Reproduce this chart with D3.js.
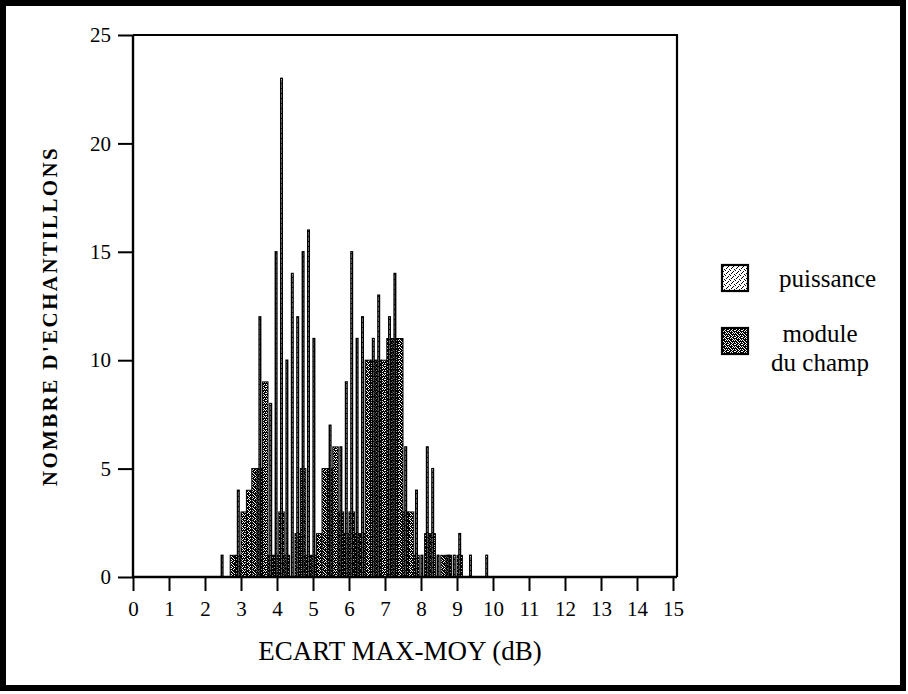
<!DOCTYPE html>
<html>
<head>
<meta charset="utf-8">
<script src="https://cdn.jsdelivr.net/npm/d3@7"></script>
<style>
  html, body { margin: 0; padding: 0; background: #fff; }
  svg { display: block; }
  text { font-family: "Liberation Serif", "Times New Roman", serif; fill: #000; }
</style>
</head>
<body>
<svg id="chart" width="908" height="694"></svg>
<script>
// Histogram bins (lower edge, dB) and counts per bin for each quantity
const binStart = [2.40, 2.55, 2.70, 2.85, 3.00, 3.15, 3.30, 3.45, 3.60, 3.75,
                  3.90, 4.05, 4.20, 4.35, 4.50, 4.65, 4.80, 4.95, 5.10, 5.25,
                  5.40, 5.55, 5.70, 5.85, 6.00, 6.15, 6.30, 6.45, 6.60, 6.75,
                  6.90, 7.05, 7.20, 7.35, 7.50, 7.65, 7.80, 7.95, 8.10, 8.25,
                  8.40, 8.55, 8.70, 8.85, 9.00, 9.15, 9.30, 9.45, 9.60, 9.75, 9.90];
const binWidth = 0.15;

const puissance   = [1, 0, 0, 4, 0, 0, 0, 12, 0, 8,
                     15, 23, 10, 14, 12, 15, 16, 11, 0, 0,
                     7, 0, 6, 9, 15, 11, 12, 0, 11, 13,
                     0, 12, 14, 0, 6, 0, 4, 1, 6, 5,
                     1, 0, 1, 1, 2, 0, 1, 0, 0, 1, 0];
const moduleChamp = [0, 0, 1, 1, 3, 4, 5, 5, 9, 1,
                     1, 3, 1, 0, 2, 5, 1, 1, 2, 5,
                     5, 6, 3, 2, 3, 2, 2, 10, 10, 10,
                     10, 11, 11, 11, 3, 3, 1, 0, 2, 2,
                     0, 1, 1, 0, 1, 0, 0, 0, 0, 0, 0];

const xTicks = [0, 1, 2, 3, 4, 5, 6, 7, 8, 9, 10, 11, 12, 13, 14, 15];
const yTicks = [0, 5, 10, 15, 20, 25];
const seriesNames = ["puissance", "module du champ"];

const svg = d3.select("#chart");

// Stipple tiles for the two fills
const defs = svg.append("defs");
function stipple(id, rows) {
  const p = defs.append("pattern")
    .attr("id", id)
    .attr("width", rows[0].length)
    .attr("height", rows.length)
    .attr("patternUnits", "userSpaceOnUse");
  p.append("rect").attr("width", rows[0].length).attr("height", rows.length).attr("fill", "#fff");
  rows.forEach((r, j) => {
    [...r].forEach((c, i) => {
      if (c === "1") p.append("rect").attr("x", i).attr("y", j).attr("width", 1).attr("height", 1).attr("fill", "#000");
    });
  });
}
stipple("pat-puissance", ["10000", "00010", "00100", "01000", "00001"]);
stipple("pat-module", ["1011011", "0110110", "1101011", "0111101", "1011010", "1101111", "0110101"]);

// Page frame
svg.append("rect").attr("x", 3).attr("y", 3).attr("width", 900).attr("height", 685)
  .attr("fill", "#fff").attr("stroke", "#000").attr("stroke-width", 6);

const x = d3.scaleLinear().domain([0, 15]).range([133, 673]);
const y = d3.scaleLinear().domain([0, 25]).range([577, 35]);
const plotRight = 677;

// Counts for module du champ: full-width stippled bars
const g = svg.append("g");
g.selectAll("rect.module")
  .data(binStart.map((s, i) => ({ s, v: moduleChamp[i] })).filter(d => d.v > 0))
  .join("rect")
  .attr("class", "module")
  .attr("x", d => x(d.s))
  .attr("width", d => x(d.s + binWidth) - x(d.s))
  .attr("y", d => y(d.v))
  .attr("height", d => y(0) - y(d.v))
  .attr("fill", "url(#pat-module)")
  .attr("stroke", "#000")
  .attr("stroke-width", 1);

// Counts for puissance: narrow bars centred in each bin
const pw = 0.045;
g.selectAll("rect.puissance")
  .data(binStart.map((s, i) => ({ s, v: puissance[i] })).filter(d => d.v > 0))
  .join("rect")
  .attr("class", "puissance")
  .attr("x", d => x(d.s + binWidth / 2 - pw / 2))
  .attr("width", d => x(d.s + binWidth / 2 + pw / 2) - x(d.s + binWidth / 2 - pw / 2))
  .attr("y", d => y(d.v))
  .attr("height", d => y(0) - y(d.v))
  .attr("fill", "url(#pat-puissance)")
  .attr("stroke", "#000")
  .attr("stroke-width", 1.4);

// Plot box: top and right edges
svg.append("path")
  .attr("d", `M${x(0)},${y(25)}H${plotRight}V${y(0)}`)
  .attr("fill", "none").attr("stroke", "#000").attr("stroke-width", 2.2);

// Axes
const yAxis = svg.append("g")
  .attr("transform", `translate(${x(0)},0)`)
  .call(d3.axisLeft(y).tickValues(yTicks).tickSize(15).tickPadding(7).tickFormat(d3.format("d")));
const xAxis = svg.append("g")
  .attr("transform", `translate(0,${y(0)})`)
  .call(d3.axisBottom(x).tickValues(xTicks).tickSize(14).tickPadding(10).tickFormat(d3.format("d")));
xAxis.select(".domain").attr("d", `M${x(0)},0H${plotRight}`);
yAxis.select(".domain").attr("d", `M0,${y(0)}V${y(25)}`);
[xAxis, yAxis].forEach(a => {
  a.select(".domain").attr("stroke", "#000").attr("stroke-width", 2.4);
  a.selectAll(".tick line").attr("stroke", "#000").attr("stroke-width", 2);
  a.selectAll(".tick text")
    .style("font-family", '"Liberation Serif", "Times New Roman", serif')
    .style("font-size", "21px").attr("fill", "#000");
});

// Axis titles
svg.append("text")
  .attr("transform", "translate(50,316) rotate(-90)")
  .attr("text-anchor", "middle")
  .attr("dominant-baseline", "central")
  .style("font-size", "21px").style("font-weight", "bold").style("letter-spacing", "2.4px")
  .text("NOMBRE D'ECHANTILLONS");
svg.append("text")
  .attr("x", 400).attr("y", 660)
  .attr("text-anchor", "middle")
  .style("font-size", "27px")
  .text("ECART MAX-MOY (dB)");

// Legend
const legend = svg.append("g");
legend.append("rect").attr("x", 722).attr("y", 265).attr("width", 26).attr("height", 26)
  .attr("fill", "url(#pat-puissance)").attr("stroke", "#000").attr("stroke-width", 2.2);
legend.append("rect").attr("x", 722).attr("y", 328).attr("width", 26).attr("height", 26)
  .attr("fill", "url(#pat-module)").attr("stroke", "#000").attr("stroke-width", 2.2);
legend.append("text").attr("x", 779).attr("y", 287).style("font-size", "25px").text(seriesNames[0]);
const lt = legend.append("text").attr("text-anchor", "middle").style("font-size", "25px");
lt.append("tspan").attr("x", 820).attr("y", 342).text("module");
lt.append("tspan").attr("x", 820).attr("y", 371).text("du champ");
</script>
</body>
</html>
